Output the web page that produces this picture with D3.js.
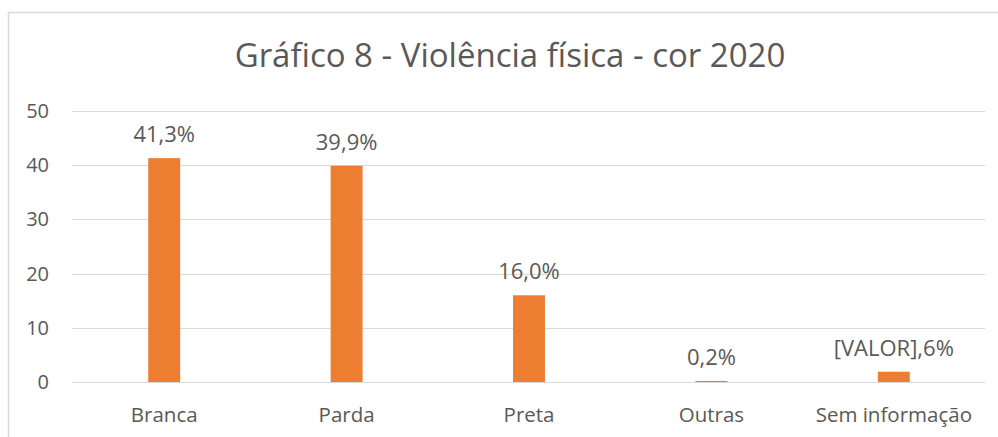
<!DOCTYPE html>
<html>
<head>
<meta charset="utf-8">
<script src="https://cdn.jsdelivr.net/npm/d3@7"></script>
<style>
  body { margin: 0; background: #fff; }
  svg { display: block; }
</style>
</head>
<body>
<div class="chart"></div>
<script>
const WIDTH = 998;
const HEIGHT = 437;

const categories = ['Branca', 'Parda', 'Preta', 'Outras', 'Sem informação'];
const values = [41.3, 39.9, 16.0, 0.2, 1.9];
const valueLabels = ['41,3%', '39,9%', '16,0%', '0,2%', '[VALOR],6%'];
const yTicks = [0, 10, 20, 30, 40, 50];
const title = 'Gráfico 8 - Violência física - cor 2020';

const FONT = '"Open Sans", sans-serif';
const TEXT = '#595959';
const GRID = '#d9d9d9';
const BAR = '#ED7D31';

const svg = d3.select('.chart')
  .append('svg')
  .attr('width', WIDTH)
  .attr('height', HEIGHT);

// chart area border (cut off at the right and bottom)
svg.append('rect')
  .attr('x', 8.5)
  .attr('y', 12.5)
  .attr('width', 1010)
  .attr('height', 460)
  .style('fill', '#fff')
  .style('stroke', GRID)
  .style('stroke-width', 1.5);

svg.append('text')
  .attr('x', 510)
  .attr('y', 67)
  .attr('text-anchor', 'middle')
  .style('font-family', FONT)
  .style('font-size', '33px')
  .style('fill', TEXT)
  .text(title);

const x = d3.scaleBand()
  .domain(categories)
  .range([73, 985])
  .paddingInner(0.825)
  .paddingOuter(0.4125);

const y = d3.scaleLinear().domain([0, 50]).range([382, 111]);

// gridlines
svg.append('g')
  .selectAll('line')
  .data(yTicks)
  .join('line')
  .attr('x1', 72)
  .attr('x2', 985)
  .attr('y1', (d) => Math.round(y(d)) + 0.5)
  .attr('y2', (d) => Math.round(y(d)) + 0.5)
  .style('stroke', GRID)
  .style('stroke-width', 1.2);

// y tick labels
const yAxis = svg.append('g')
  .attr('transform', 'translate(49,0)')
  .call(d3.axisLeft(y).tickValues(yTicks).tickSize(0).tickPadding(0));
yAxis.select('.domain').remove();
yAxis.selectAll('text')
  .style('font-family', FONT)
  .style('font-size', '20px')
  .style('fill', TEXT);

// bars
svg.append('g')
  .selectAll('rect')
  .data(values)
  .join('rect')
  .attr('x', (d, i) => x(categories[i]))
  .attr('y', (d) => y(d))
  .attr('width', x.bandwidth())
  .attr('height', (d) => y(0) - y(d))
  .style('fill', BAR);

// value labels
svg.append('g')
  .selectAll('text')
  .data(values)
  .join('text')
  .attr('x', (d, i) => x(categories[i]) + x.bandwidth() / 2)
  .attr('y', (d) => y(d) - 16)
  .attr('text-anchor', 'middle')
  .style('font-family', FONT)
  .style('font-size', '22px')
  .style('fill', TEXT)
  .text((d, i) => valueLabels[i]);

// category axis
const xAxis = svg.append('g')
  .attr('transform', 'translate(0,422)')
  .call(d3.axisBottom(x).tickSize(0).tickPadding(0));
xAxis.select('.domain').remove();
xAxis.selectAll('text')
  .attr('dy', 0)
  .style('font-family', FONT)
  .style('font-size', '20.5px')
  .style('fill', TEXT);
</script>
</body>
</html>
